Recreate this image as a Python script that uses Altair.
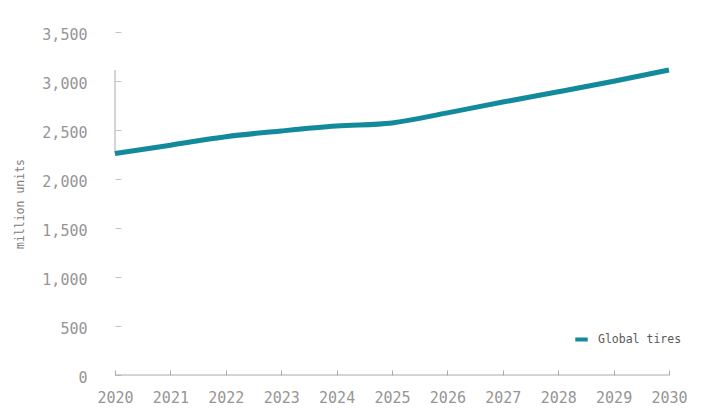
import altair as alt
import pandas as pd

years = [2020, 2021, 2022, 2023, 2024, 2025, 2026, 2027, 2028, 2029, 2030]
tires = [2260, 2345, 2432, 2490, 2540, 2572, 2675, 2785, 2890, 2998, 3112]
series_name = "Global tires"
y_ticks = [0, 500, 1000, 1500, 2000, 2500, 3000, 3500]

FONT = "DejaVu Sans Mono"
TEAL = "#138a9c"

df = pd.DataFrame({"year": years, "value": tires, "series": series_name})
frame_y = pd.DataFrame({"year": [years[0]], "lo": [min(tires)], "hi": [max(tires)]})
frame_x = pd.DataFrame({"x1": [years[0]], "x2": [years[-1]], "y": [0]})

xscale = alt.Scale(domain=[years[0], years[-1]], nice=False, zero=False)
yscale = alt.Scale(domain=[y_ticks[0], y_ticks[-1]], nice=False)

line = alt.Chart(df).mark_line(strokeWidth=5, interpolate="monotone").encode(
    x=alt.X("year:Q", scale=xscale,
            axis=alt.Axis(values=years, format="d", title=None, domain=False, grid=False,
                          offset=-5, tickSize=5, tickColor="#aaaaaa", labelPadding=15,
                          labelFlush=False, labelOverlap=False,
                          labelFont=FONT, labelFontSize=15, labelColor="#959595")),
    y=alt.Y("value:Q", scale=yscale,
            axis=alt.Axis(values=y_ticks, format=",.0f", title="million units", domain=False,
                          grid=False, offset=-6, tickSize=6, tickColor="#c4c4c4",
                          labelPadding=28, labelOffset=2, labelFont=FONT, labelFontSize=15,
                          labelFlush=False, labelOverlap=False,
                          labelColor="#959595", titleFont=FONT, titleFontSize=11.5,
                          titleFontWeight="normal", titleColor="#808080", titlePadding=16)),
    color=alt.Color("series:N", scale=alt.Scale(range=[TEAL]),
                    legend=alt.Legend(title=None, orient="none", legendX=458, legendY=299,
                                      symbolType="stroke", symbolSize=156,
                                      symbolStrokeWidth=4, labelFont=FONT, labelFontSize=11.5,
                                      labelColor="#5a5a5a", labelOffset=8)),
)

rule_y = alt.Chart(frame_y).mark_rule(color="#aaaaaa", strokeWidth=1).encode(
    x=alt.X("year:Q", scale=xscale), y=alt.Y("lo:Q", scale=yscale), y2="hi:Q"
)
rule_x = alt.Chart(frame_x).mark_rule(color="#aaaaaa", strokeWidth=1).encode(
    x=alt.X("x1:Q", scale=xscale), x2="x2:Q", y=alt.Y("y:Q", scale=yscale)
)

chart = alt.layer(rule_y, rule_x, line).properties(
    width=554, height=343,
    autosize=alt.AutoSizeParams(type="none"),
    padding={"left": 115, "top": 32, "right": 35, "bottom": 43},
    background="white",
).configure_view(stroke=None)

chart.save("out.html", embed_options={"renderer": "svg", "actions": False})
